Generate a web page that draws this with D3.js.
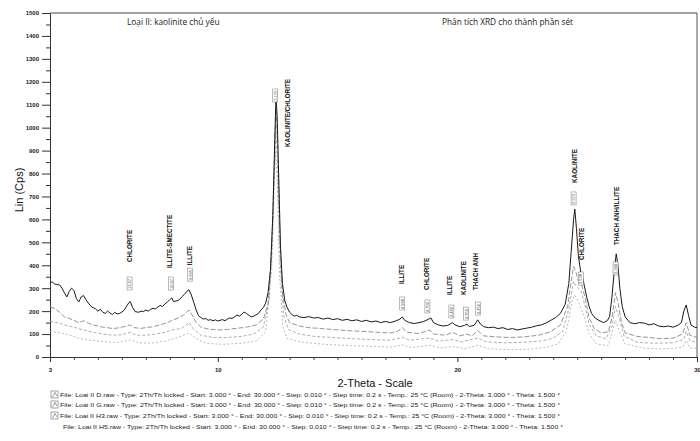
<!DOCTYPE html>
<html><head><meta charset="utf-8">
<script src="https://cdn.jsdelivr.net/npm/d3@7"></script>
<style>body{margin:0;background:#fff}svg{display:block}</style>
</head><body><svg id="c" width="700" height="441"></svg>
<script>
// ---------- DATA ----------
const seriesNames = ["Loai II D.raw","Loai II G.raw","Loai II H3.raw","Loai II H5.raw"];
const serD = [[3.0,325],[3.1,327],[3.2,318],[3.3,316],[3.4,314],[3.5,300],[3.6,280],[3.7,262],[3.8,285],[3.9,300],[4.0,290],[4.1,255],[4.2,240],[4.3,262],[4.4,268],[4.5,250],[4.6,235],[4.7,222],[4.8,215],[4.9,210],[5.0,200],[5.1,208],[5.2,196],[5.3,190],[5.4,200],[5.5,192],[5.6,185],[5.7,195],[5.8,188],[5.9,190],[6.0,196],[6.1,205],[6.2,222],[6.3,238],[6.35,242],[6.45,215],[6.55,198],[6.7,195],[6.8,200],[6.9,198],[7.0,205],[7.1,200],[7.2,208],[7.3,212],[7.4,210],[7.5,218],[7.6,225],[7.7,220],[7.8,232],[7.9,240],[8.0,250],[8.08,258],[8.15,242],[8.3,245],[8.4,250],[8.5,262],[8.6,272],[8.7,285],[8.8,293],[8.9,270],[9.0,238],[9.1,205],[9.2,180],[9.3,172],[9.4,165],[9.5,168],[9.6,160],[9.7,163],[9.8,158],[9.9,162],[10.0,157],[10.1,160],[10.2,163],[10.3,158],[10.4,165],[10.5,170],[10.6,168],[10.7,175],[10.8,183],[10.9,178],[11.0,186],[11.1,196],[11.2,190],[11.3,182],[11.4,175],[11.5,178],[11.6,184],[11.7,190],[11.8,205],[11.9,215],[12.0,235],[12.1,280],[12.2,380],[12.3,620],[12.38,950],[12.43,1130],[12.48,1050],[12.55,760],[12.62,480],[12.7,320],[12.8,245],[12.9,215],[13.0,195],[13.1,185],[13.2,178],[13.3,182],[13.4,175],[13.6,172],[13.8,176],[14.0,170],[14.2,172],[14.4,165],[14.6,170],[14.8,163],[15.0,167],[15.2,160],[15.4,164],[15.6,158],[15.8,162],[16.0,155],[16.2,160],[16.4,153],[16.6,157],[16.8,150],[17.0,155],[17.2,150],[17.4,156],[17.6,165],[17.7,175],[17.8,160],[18.0,150],[18.2,146],[18.4,150],[18.6,155],[18.8,165],[18.9,170],[19.0,150],[19.2,140],[19.4,135],[19.6,138],[19.8,150],[19.9,140],[20.1,132],[20.3,138],[20.4,143],[20.5,133],[20.7,138],[20.85,162],[20.95,145],[21.1,132],[21.3,128],[21.5,130],[21.7,124],[21.9,128],[22.1,120],[22.3,124],[22.5,118],[22.7,122],[22.9,126],[23.1,130],[23.3,136],[23.5,140],[23.7,148],[23.9,160],[24.1,172],[24.3,190],[24.5,230],[24.65,320],[24.75,460],[24.85,600],[24.9,645],[24.97,560],[25.05,440],[25.15,370],[25.22,350],[25.3,310],[25.4,260],[25.5,220],[25.6,190],[25.75,170],[25.9,160],[26.1,150],[26.25,158],[26.35,175],[26.45,260],[26.55,380],[26.63,450],[26.7,400],[26.78,300],[26.88,220],[27.0,175],[27.2,150],[27.4,145],[27.6,150],[27.8,148],[28.0,140],[28.2,145],[28.4,135],[28.6,132],[28.8,135],[29.0,130],[29.2,138],[29.35,150],[29.45,200],[29.55,227],[29.65,180],[29.75,140],[29.9,130],[30.0,128]];
const serG = [[3.0,218],[3.2,212],[3.4,195],[3.6,175],[3.8,168],[4.0,160],[4.2,150],[4.4,158],[4.6,148],[4.8,140],[5.0,135],[5.2,130],[5.4,128],[5.6,124],[5.8,126],[6.0,130],[6.2,135],[6.35,140],[6.5,128],[6.8,125],[7.0,128],[7.3,132],[7.6,140],[7.9,150],[8.1,160],[8.4,172],[8.6,185],[8.8,205],[8.95,180],[9.1,150],[9.3,130],[9.6,122],[10.0,118],[10.4,120],[10.8,125],[11.2,130],[11.6,140],[11.9,165],[12.1,230],[12.25,450],[12.35,800],[12.43,1080],[12.5,950],[12.6,500],[12.7,280],[12.85,185],[13.0,150],[13.4,135],[13.8,128],[14.2,125],[14.8,120],[15.4,115],[16.0,112],[16.6,108],[17.2,105],[17.5,112],[17.7,128],[17.9,108],[18.4,102],[18.85,118],[19.0,100],[19.5,95],[19.8,108],[20.1,92],[20.4,100],[20.6,92],[20.85,115],[21.1,92],[21.6,88],[22.2,85],[22.8,88],[23.4,95],[23.9,110],[24.3,140],[24.6,220],[24.75,330],[24.85,395],[24.95,370],[25.05,330],[25.2,310],[25.35,250],[25.5,170],[25.7,125],[26.0,105],[26.3,110],[26.45,170],[26.6,280],[26.7,240],[26.85,150],[27.0,105],[27.5,90],[28.0,85],[28.5,80],[29.0,82],[29.4,100],[29.55,150],[29.7,95],[30.0,85]];
const serH3 = [[3.0,155],[3.3,150],[3.6,140],[4.0,130],[4.4,118],[4.8,108],[5.2,100],[5.6,95],[6.0,97],[6.35,108],[6.6,95],[7.0,95],[7.4,100],[7.8,108],[8.1,118],[8.5,125],[8.8,150],[9.0,120],[9.3,95],[9.8,85],[10.4,85],[11.0,90],[11.5,100],[11.9,130],[12.15,250],[12.3,600],[12.42,1000],[12.5,820],[12.6,420],[12.75,180],[12.95,120],[13.4,100],[14.0,90],[14.8,85],[15.6,80],[16.4,76],[17.2,73],[17.7,86],[18.0,73],[18.85,83],[19.2,69],[19.8,76],[20.2,66],[20.85,83],[21.2,66],[22.0,62],[22.8,64],[23.5,70],[24.0,82],[24.4,112],[24.65,210],[24.85,330],[24.95,310],[25.15,290],[25.3,235],[25.5,142],[25.8,92],[26.2,80],[26.45,132],[26.6,220],[26.75,172],[26.95,92],[27.5,64],[28.2,60],[29.0,62],[29.45,77],[29.55,112],[29.7,72],[30.0,64]];
const serH5 = [[3.0,112],[3.4,106],[3.8,96],[4.2,82],[4.6,74],[5.0,70],[5.4,66],[5.8,63],[6.35,75],[6.7,62],[7.2,60],[7.8,70],[8.2,80],[8.8,105],[9.1,80],[9.5,60],[10.2,55],[11.0,60],[11.6,70],[12.0,110],[12.25,380],[12.4,900],[12.48,780],[12.58,360],[12.72,130],[12.9,80],[13.5,65],[14.5,55],[15.5,50],[16.5,46],[17.3,43],[17.7,53],[18.1,41],[18.85,51],[19.3,39],[19.8,46],[20.3,36],[20.85,51],[21.3,36],[22.2,32],[23.0,34],[23.7,42],[24.2,57],[24.55,112],[24.8,250],[24.9,270],[25.1,230],[25.3,175],[25.5,102],[25.8,57],[26.3,50],[26.6,160],[26.75,115],[27.0,57],[27.8,38],[28.6,35],[29.4,42],[29.55,72],[29.7,40],[30.0,38]];

const yTicks = d3.range(0, 1501, 100);
const xTickLabels = [3, 10, 20, 30];
// mineral labels: [2-theta, name, base count]
const peakLabels = [[6.3,"CHLORITE",414],[8.0,"ILLITE-SMECTITE",388],[8.84,"ILLITE",400],[12.93,"KAOLINITE/CHLORITE",916],[17.65,"ILLITE",318],[18.73,"CHLORITE",292],[19.69,"ILLITE",270],[20.24,"KAOLINITE",270],[20.74,"THACH ANH",292],[24.87,"KAOLINITE",759],[25.2,"CHLORITE",423],[26.66,"THACH ANH/ILLITE",488]];
// d-spacing tags: [2-theta, text, base count]
const dLabels = [[6.32,"13.97",292],[8.05,"10.97",292],[8.84,"9.995",331],[12.4,"7.133",1112],[17.7,"4.998",205],[18.75,"4.702",192],[19.75,"4.482",170],[20.36,"4.359",161],[20.86,"4.256",183],[24.85,"3.573",663],[25.15,"3.538",314],[26.6,"3.344",358]];
const titleLeft = "Loại II: kaolinite chủ yếu";
const titleRight = "Phân tích XRD cho thành phần sét";
const xTitle = "2-Theta - Scale";
const yTitle = "Lin (Cps)";
const legendSuffix = " - Type: 2Th/Th locked - Start: 3.000 ° - End: 30.000 ° - Step: 0.010 ° - Step time: 0.2 s - Temp.: 25 °C (Room) - 2-Theta: 3.000 ° - Theta: 1.500 °";

// ---------- CHART ----------
const svg = d3.select("#c");
const L = 50, R = 697, T = 13, B = 357;
const x = d3.scaleLinear().domain([3, 30]).range([L, R]);
const y = d3.scaleLinear().domain([0, 1500]).range([B, T]);
const FONT = "Liberation Sans, Arial, sans-serif";

// frame top and right
svg.append("line").attr("x1", L).attr("x2", R).attr("y1", T).attr("y2", T).attr("stroke", "#444").attr("stroke-width", 1);
svg.append("line").attr("x1", R).attr("x2", R).attr("y1", T).attr("y2", B).attr("stroke", "#555").attr("stroke-width", 1);

// y axis
const yAxis = svg.append("g").attr("transform", `translate(${L},0)`)
  .call(d3.axisLeft(y).tickValues(yTicks).tickSize(8).tickSizeOuter(0).tickPadding(3).tickFormat(d3.format("d")));
yAxis.select(".domain").attr("stroke", "#333");
yAxis.selectAll(".tick line").attr("stroke", "#333");
yAxis.selectAll(".tick text").attr("font-family", FONT).attr("font-size", 6).attr("font-weight", "bold").attr("fill", "#222");
svg.append("g").attr("transform", `translate(${L},0)`)
  .call(d3.axisLeft(y).tickValues(d3.range(50, 1500, 100)).tickSize(4).tickFormat(""))
  .call(g => g.select(".domain").remove()).selectAll("line").attr("stroke", "#333");

// x axis
const xAxis = svg.append("g").attr("transform", `translate(0,${B})`)
  .call(d3.axisBottom(x).tickValues(xTickLabels).tickSize(5).tickSizeOuter(0).tickPadding(6).tickFormat(d3.format("d")));
xAxis.select(".domain").attr("stroke", "#333");
xAxis.selectAll(".tick line").attr("stroke", "#333");
xAxis.selectAll(".tick text").attr("font-family", FONT).attr("font-size", 6).attr("font-weight", "bold").attr("fill", "#222");
svg.append("g").attr("transform", `translate(0,${B})`)
  .call(d3.axisBottom(x).tickValues(d3.range(4, 30, 1).filter(v => v % 10 !== 0)).tickSize(3).tickFormat(""))
  .call(g => g.select(".domain").remove()).selectAll("line").attr("stroke", "#444");

// series
const line = d3.line().x(d => x(d[0])).y(d => y(d[1])).curve(d3.curveLinear);
const styles = [
  {data: serH5, stroke: "#aaa", w: 0.8, dash: "2,2"},
  {data: serH3, stroke: "#999", w: 0.8, dash: "3,2"},
  {data: serG, stroke: "#7a7a7a", w: 0.8, dash: "5,2"},
  {data: serD, stroke: "#1a1a1a", w: 1, dash: null}
];
styles.forEach(s => {
  svg.append("path").datum(s.data).attr("d", line).attr("fill", "none")
    .attr("stroke", s.stroke).attr("stroke-width", s.w).attr("stroke-dasharray", s.dash);
});

// mineral labels
peakLabels.forEach(p => {
  svg.append("text").attr("transform", `translate(${x(p[0]) + 2.5},${y(p[2])}) rotate(-90)`)
    .attr("font-family", FONT).attr("font-size", 6.3).attr("font-weight", "bold")
    .attr("fill", "#111").text(p[1]);
});
// d-spacing tags
dLabels.forEach(p => {
  const g = svg.append("g").attr("transform", `translate(${x(p[0])},${y(p[2])}) rotate(-90)`);
  g.append("rect").attr("x", 0).attr("y", -2.5).attr("width", 13).attr("height", 5).attr("fill", "#fff").attr("stroke", "#777").attr("stroke-width", 0.5);
  g.append("text").attr("x", 1).attr("y", 1.6).attr("font-family", FONT).attr("font-size", 4).attr("fill", "#444").text(p[1]);
});

// titles
svg.append("text").attr("x", 127).attr("y", 25).attr("font-family", "Open Sans, sans-serif").attr("font-size", 8.3).attr("fill", "#222").text(titleLeft);
svg.append("text").attr("x", 442).attr("y", 25).attr("font-family", "Open Sans, sans-serif").attr("font-size", 8.3).attr("fill", "#222").text(titleRight);
svg.append("text").attr("x", 375).attr("y", 387).attr("text-anchor", "middle").attr("font-family", FONT).attr("font-size", 11).attr("fill", "#111").text(xTitle);
svg.append("text").attr("transform", "translate(23,190) rotate(-90)").attr("text-anchor", "middle").attr("font-family", FONT).attr("font-size", 11).attr("fill", "#111").text(yTitle);

// legend
const legY = [397, 407, 418, 429];
seriesNames.forEach((n, i) => {
  const gy = legY[i];
  if (i < 3) {
    svg.append("rect").attr("x", 51).attr("y", gy - 6).attr("width", 7).attr("height", 7).attr("fill", "none").attr("stroke", "#666").attr("stroke-width", 0.6);
    svg.append("path").attr("d", `M52.5,${gy} L55,${gy - 4.5} L57,${gy - 1}`).attr("fill", "none").attr("stroke", "#555").attr("stroke-width", 0.6);
  }
  svg.append("text").attr("x", i < 3 ? 60 : 63).attr("y", gy).attr("font-family", FONT)
    .attr("font-size", 6).attr("fill", "#222").attr("textLength", 500).attr("lengthAdjust", "spacingAndGlyphs")
    .text("File: " + n + legendSuffix);
});
</script></body></html>
